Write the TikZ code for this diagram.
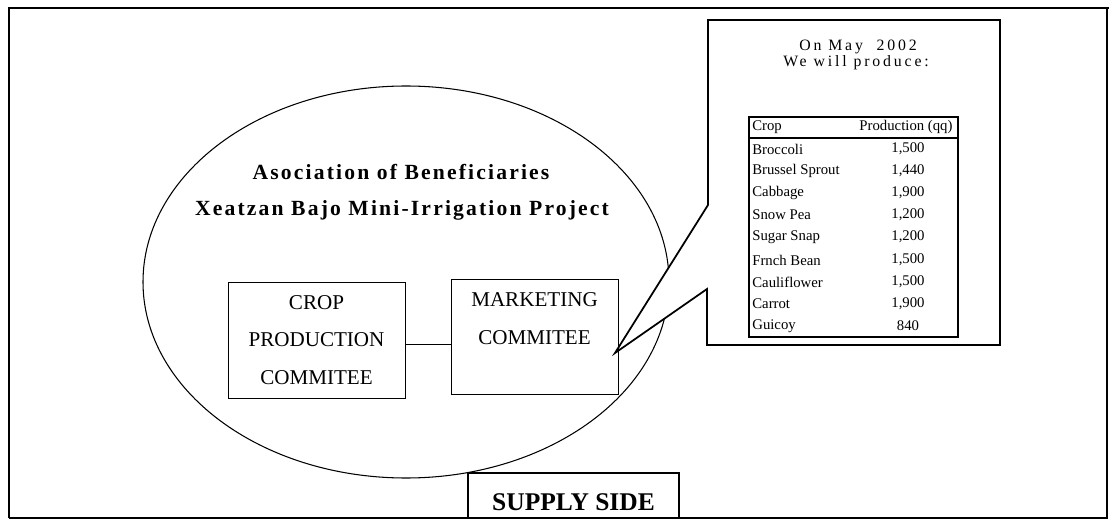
\documentclass[tikz,border=0pt]{standalone}
\usepackage{fontspec}
\setmainfont{Liberation Serif}
\newfontfamily\widefont[LetterSpace=10]{Liberation Serif}
\newfontfamily\calloutfont[LetterSpace=18]{Liberation Serif}
\usetikzlibrary{positioning}
\tikzset{
  combox/.style={draw=black, line width=0.5pt, inner sep=0pt, align=center,
    font=\fontsize{12}{21.5}\selectfont},
  cell/.style={inner sep=0pt, font=\fontsize{8.4}{9}\selectfont}
}
\begin{document}
\begin{tikzpicture}[x=0.02cm, y=-0.02cm]
  \useasboundingbox (0, 0) rectangle (1109, 520);
  % frame
  \draw [black, line width=1.4pt] (9, 518) -- (9, 8) -- (1109, 8);
  \draw [black, line width=0.6pt] (9, 518) -- (1107, 518) -- (1107, 8);

  % association
  \draw [black, line width=0.6pt] (406, 282) ellipse [x radius=263, y radius=196];
  \node (assoc) at (401, 172) {\widefont\fontsize{12.3}{14}\selectfont\bfseries Asociation of Beneficiaries};
  \node (project) at (402, 210) {\widefont\fontsize{12.3}{14}\selectfont\bfseries Xeatzan Bajo Mini-Irrigation Project};

  % callout
  \draw [black, fill=white, line width=1pt, line join=miter]
    (708, 20) -- (1000, 20) -- (1000, 345) -- (707, 345) -- (707, 289)
    -- (615, 353) -- (708, 205) -- cycle;
  \node (date) at (858, 47) {\calloutfont\fontsize{9}{10}\selectfont On May\ \ 2002};
  \node (produce) at (856, 63) {\calloutfont\fontsize{9}{10}\selectfont We will produce:};

  % table
  \draw [black, line width=0.7pt] (749, 117) rectangle (958, 337);
  \draw [black, line width=0.8pt] (749, 138) -- (958, 138);
  \node [cell, anchor=west] (hcrop) at (752, 127) {Crop};
  \node [cell] (hprod) at (906, 127) {Production (qq)};
  \node [cell, anchor=west] (c1) at (752, 149) {Broccoli};
  \node [cell] (p1) at (908, 149) {1,500};
  \node [cell, anchor=west] (c2) at (752, 171) {Brussel Sprout};
  \node [cell] (p2) at (908, 171) {1,440};
  \node [cell, anchor=west] (c3) at (752, 193) {Cabbage};
  \node [cell] (p3) at (908, 193) {1,900};
  \node [cell, anchor=west] (c4) at (752, 215) {Snow Pea};
  \node [cell] (p4) at (908, 215) {1,200};
  \node [cell, anchor=west] (c5) at (752, 237) {Sugar Snap};
  \node [cell] (p5) at (908, 237) {1,200};
  \node [cell, anchor=west] (c6) at (752, 260) {Frnch Bean};
  \node [cell] (p6) at (908, 260) {1,500};
  \node [cell, anchor=west] (c7) at (752, 282) {Cauliflower};
  \node [cell] (p7) at (908, 282) {1,500};
  \node [cell, anchor=west] (c8) at (752, 304) {Carrot};
  \node [cell] (p8) at (908, 304) {1,900};
  \node [cell, anchor=west] (c9) at (752, 326) {Guicoy};
  \node [cell] (p9) at (908, 326) {840};

  % committees
  \node [combox, minimum width=3.54cm, minimum height=2.32cm] (crop) at (316.5, 340)
    {CROP\\PRODUCTION\\COMMITEE};
  \node [combox, minimum width=3.34cm, minimum height=2.3cm] (market) at (534.5, 336.5) {};
  \node [align=center, inner sep=0pt, font=\fontsize{12}{21.5}\selectfont] (markettext) at (534.5, 319)
    {MARKETING\\COMMITEE};
  \draw [black, line width=0.5pt] ([yshift=-2.8pt]crop.east) -- ([yshift=-2.8pt]crop.east -| market.west);

  % supply side
  \node [draw=black, fill=white, line width=0.7pt, minimum width=4.22cm, minimum height=0.9cm,
    inner sep=0pt] (supply) at (573.5, 495.5) {};
  \node [font=\fontsize{14.5}{16}\selectfont\bfseries, yshift=-4pt] (supplytext) at (supply.center) {SUPPLY SIDE};
\end{tikzpicture}
\end{document}
